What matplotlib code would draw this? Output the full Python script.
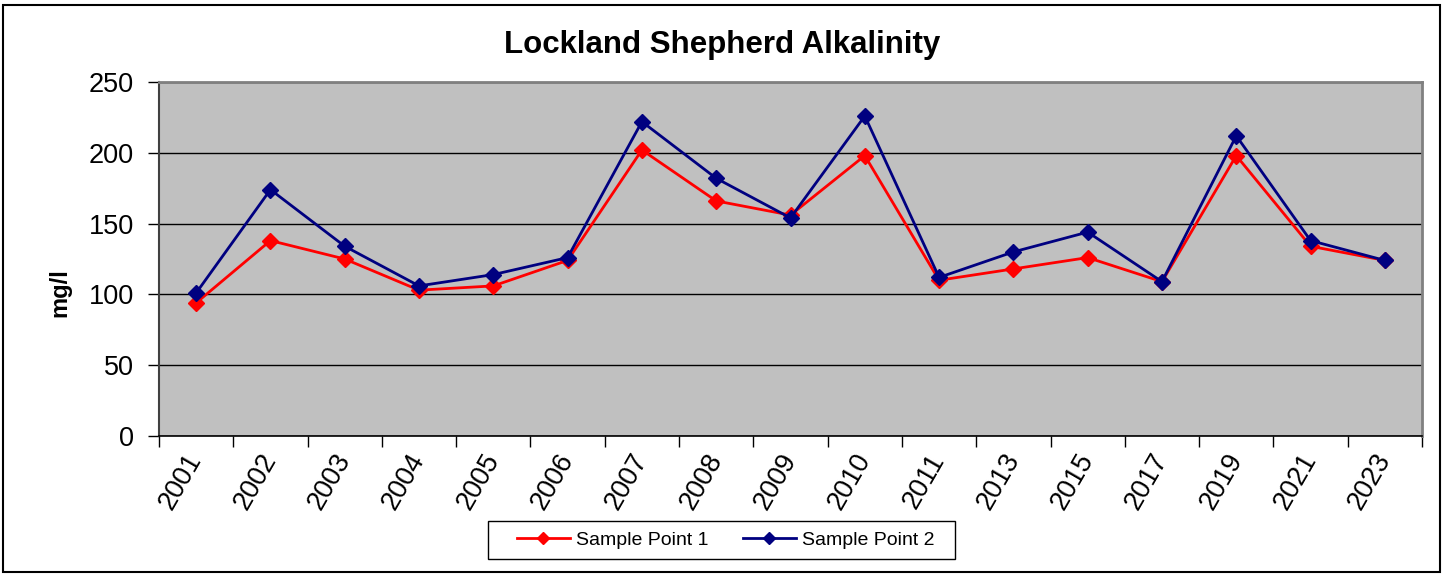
import matplotlib
matplotlib.use("Agg")
import matplotlib.pyplot as plt
from matplotlib.patches import Rectangle
import numpy as np

plt.rcParams['font.family'] = ['Liberation Sans', 'DejaVu Sans']

years = ["2001", "2002", "2003", "2004", "2005", "2006", "2007", "2008", "2009",
         "2010", "2011", "2013", "2015", "2017", "2019", "2021", "2023"]
sample_point_1 = [94, 138, 125, 103, 106, 124, 202, 166, 156, 198, 110, 118, 126, 109, 198, 134, 124]
sample_point_2 = [101, 174, 134, 106, 114, 126, 222, 182, 154, 226, 112, 130, 144, 109, 212, 138, 124]
y_ticks = [0, 50, 100, 150, 200, 250]

W, H = 1442, 574
fig = plt.figure(figsize=(W / 100, H / 100), dpi=100)
fig.patch.set_facecolor('white')

ax = fig.add_axes([159 / W, 1 - 436 / H, (1422 - 159) / W, (436 - 82) / H])
ax.set_facecolor('#C0C0C0')

x = np.arange(len(years))
ax.plot(x, sample_point_1, color='#FF0000', lw=2, marker='D', markersize=8.5,
        label='Sample Point 1', zorder=3)
ax.plot(x, sample_point_2, color='#000080', lw=2, marker='D', markersize=8.5,
        label='Sample Point 2', zorder=4)

ax.set_xlim(-0.5, len(years) - 0.5)
ax.set_ylim(0, 250)
ax.set_yticks(y_ticks)
ax.set_yticklabels([str(v) for v in y_ticks], fontsize=19.5)
ax.yaxis.grid(True, color='black', lw=1.0)
ax.set_axisbelow(True)

ax.set_xticks(np.arange(-0.5, len(years), 1.0))
ax.set_xticklabels([])
ax.set_xticks(x, minor=True)
ax.set_xticklabels(years, minor=True, rotation=60, ha='right', va='center',
                   rotation_mode='anchor', fontsize=19.5)
ax.tick_params(axis='x', which='major', direction='out', length=8, width=1, color='black')
ax.tick_params(axis='x', which='minor', length=0, pad=14)
ax.tick_params(axis='y', direction='out', length=8, width=1, color='black', pad=10)

for side in ['top', 'right']:
    ax.spines[side].set_color('#808080')
    ax.spines[side].set_linewidth(2)
ax.spines['left'].set_color('#404040')
ax.spines['left'].set_linewidth(1.5)
ax.spines['bottom'].set_color('black')
ax.spines['bottom'].set_linewidth(1.2)

fig.text(722 / W, 1 - 45 / H, 'Lockland Shepherd Alkalinity', fontsize=22.5,
         fontweight='bold', ha='center', va='center')
fig.text(60 / W, 1 - 293 / H, 'mg/l', fontsize=17, fontweight='bold',
         rotation=90, ha='center', va='center')

leg = fig.legend(loc='center', bbox_to_anchor=(726 / W, 1 - 540 / H), ncol=2,
                 fontsize=14, frameon=False, handlelength=2.7, handletextpad=0.35,
                 columnspacing=1.75, borderpad=0.3, borderaxespad=0,
                 markerscale=0.7)

# legend frame
fig.patches.append(Rectangle((488 / W, 1 - 559 / H), (955 - 488) / W, (559 - 521) / H,
                             transform=fig.transFigure, fill=False,
                             edgecolor='black', lw=1.0))

# outer chart border
fig.patches.append(Rectangle((3 / W, 2 / H), (1440 - 3) / W, (572 - 5) / H,
                             transform=fig.transFigure, fill=False,
                             edgecolor='black', lw=1.5))

fig.savefig('out.png', dpi=100)
